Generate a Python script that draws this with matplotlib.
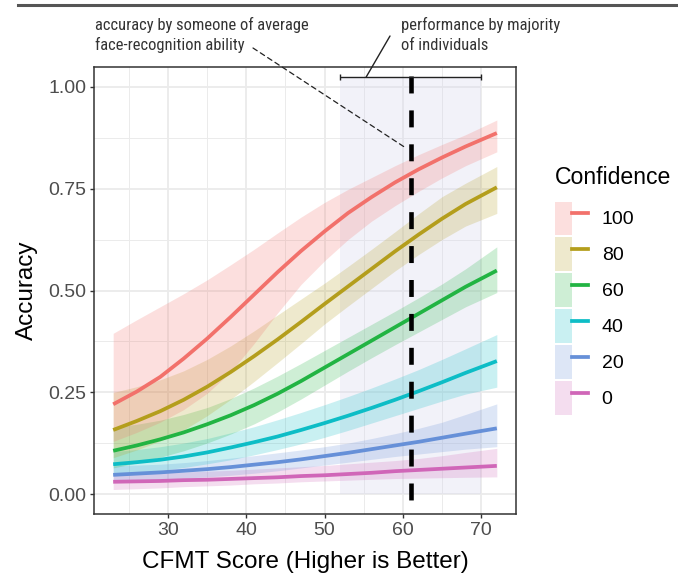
import matplotlib
matplotlib.use("Agg")
import matplotlib.pyplot as plt
from matplotlib.lines import Line2D
from matplotlib.patches import Patch
from matplotlib.legend_handler import HandlerTuple

plt.rcParams['font.family'] = ['Liberation Sans', 'DejaVu Sans']

# data
score = [23, 26, 29, 32, 35, 38, 41, 44, 47, 50, 53, 56, 59, 62, 65, 68, 72]

acc_100 = [0.221, 0.252, 0.288, 0.333, 0.382, 0.435, 0.490, 0.545, 0.597, 0.645, 0.690, 0.729, 0.765, 0.797, 0.826, 0.853, 0.886]
lo_100 = [0.130, 0.152, 0.177, 0.208, 0.248, 0.300, 0.370, 0.445, 0.515, 0.573, 0.625, 0.670, 0.708, 0.743, 0.776, 0.806, 0.840]
hi_100 = [0.395, 0.428, 0.460, 0.492, 0.526, 0.563, 0.601, 0.641, 0.680, 0.716, 0.748, 0.777, 0.806, 0.833, 0.858, 0.882, 0.918]

acc_80 = [0.158, 0.180, 0.204, 0.232, 0.264, 0.300, 0.339, 0.380, 0.423, 0.467, 0.510, 0.553, 0.596, 0.637, 0.676, 0.712, 0.753]
lo_80 = [0.090, 0.109, 0.131, 0.158, 0.193, 0.233, 0.277, 0.323, 0.370, 0.418, 0.462, 0.505, 0.548, 0.588, 0.625, 0.658, 0.689]
hi_80 = [0.250, 0.264, 0.281, 0.303, 0.331, 0.364, 0.401, 0.440, 0.479, 0.518, 0.559, 0.601, 0.644, 0.688, 0.730, 0.763, 0.804]

acc_60 = [0.107, 0.120, 0.135, 0.152, 0.172, 0.194, 0.219, 0.247, 0.278, 0.311, 0.344, 0.377, 0.410, 0.443, 0.476, 0.509, 0.549]
lo_60 = [0.065, 0.077, 0.091, 0.107, 0.126, 0.148, 0.173, 0.202, 0.234, 0.268, 0.302, 0.335, 0.367, 0.398, 0.429, 0.460, 0.495]
hi_60 = [0.165, 0.172, 0.182, 0.196, 0.213, 0.235, 0.261, 0.290, 0.321, 0.353, 0.385, 0.417, 0.449, 0.482, 0.516, 0.553, 0.607]

acc_40 = [0.074, 0.079, 0.085, 0.093, 0.103, 0.115, 0.128, 0.142, 0.158, 0.175, 0.193, 0.212, 0.232, 0.253, 0.275, 0.298, 0.327]
lo_40 = [0.048, 0.053, 0.059, 0.066, 0.075, 0.085, 0.097, 0.110, 0.124, 0.140, 0.157, 0.175, 0.193, 0.211, 0.229, 0.246, 0.263]
hi_40 = [0.105, 0.110, 0.117, 0.126, 0.137, 0.151, 0.166, 0.183, 0.201, 0.220, 0.240, 0.261, 0.283, 0.306, 0.331, 0.357, 0.392]

acc_20 = [0.048, 0.051, 0.054, 0.058, 0.062, 0.067, 0.073, 0.079, 0.086, 0.094, 0.102, 0.111, 0.120, 0.129, 0.139, 0.149, 0.162]
lo_20 = [0.030, 0.033, 0.036, 0.040, 0.043, 0.047, 0.052, 0.058, 0.065, 0.072, 0.079, 0.086, 0.093, 0.099, 0.105, 0.111, 0.117]
hi_20 = [0.070, 0.072, 0.074, 0.078, 0.083, 0.089, 0.095, 0.102, 0.109, 0.117, 0.126, 0.137, 0.149, 0.162, 0.177, 0.196, 0.222]

acc_0 = [0.031, 0.032, 0.033, 0.035, 0.036, 0.038, 0.040, 0.042, 0.045, 0.047, 0.050, 0.053, 0.057, 0.060, 0.063, 0.066, 0.070]
lo_0 = [0.012, 0.014, 0.016, 0.019, 0.021, 0.023, 0.026, 0.028, 0.031, 0.033, 0.035, 0.037, 0.039, 0.040, 0.041, 0.042, 0.043]
hi_0 = [0.052, 0.053, 0.054, 0.055, 0.057, 0.059, 0.062, 0.065, 0.068, 0.071, 0.075, 0.079, 0.083, 0.088, 0.095, 0.103, 0.113]

confidence = ['100', '80', '60', '40', '20', '0']
colors = ['#F2716B', '#B49E1C', '#22B443', '#0DBDC6', '#6690D8', '#D066B8']
lines = [acc_100, acc_80, acc_60, acc_40, acc_20, acc_0]
lows = [lo_100, lo_80, lo_60, lo_40, lo_20, lo_0]
highs = [hi_100, hi_80, hi_60, hi_40, hi_20, hi_0]

avg_score = 61
majority_range = (52, 70)
bar_y = 1.023

fig = plt.figure(figsize=(6.78, 5.74), dpi=100)
ax = fig.add_axes([94/678, 1 - 514/574, 422/678, 447/574])

ax.set_xlim(20.55, 74.45)
ax.set_ylim(-0.048, 1.048)
ax.set_xticks([30, 40, 50, 60, 70])
ax.set_xticks([25, 35, 45, 55, 65], minor=True)
ax.set_yticks([0, 0.25, 0.5, 0.75, 1.0])
ax.set_yticks([0.125, 0.375, 0.625, 0.875], minor=True)
ax.set_yticklabels(['0.00', '0.25', '0.50', '0.75', '1.00'])
ax.grid(which='major', color='#EBEBEB', lw=1.3, zorder=0)
ax.grid(which='minor', color='#EBEBEB', lw=0.7, zorder=0)
ax.set_axisbelow(True)
ax.tick_params(which='major', length=3.2, width=1, color='#333333',
               labelsize=14, labelcolor='#4D4D4D', pad=2.5)
ax.tick_params(which='minor', length=0)
for s in ax.spines.values():
    s.set_color('#333333')
    s.set_linewidth(1.1)

# band of most individuals
ax.axvspan(majority_range[0], majority_range[1], ymin=0.048/1.096, ymax=(bar_y + 0.048)/1.096,
           color='#D8D8EE', alpha=0.32, lw=0, zorder=1)

for lo, hi, c in zip(lows[::-1], highs[::-1], colors[::-1]):
    ax.fill_between(score, lo, hi, color=c, alpha=0.22, lw=0, zorder=2)
for y, c in zip(lines[::-1], colors[::-1]):
    ax.plot(score, y, color=c, lw=2.7, zorder=3, solid_capstyle='butt', solid_joinstyle='round')

ax.plot([avg_score, avg_score], [bar_y + 0.003, -0.048], color='black', lw=3.3,
        dashes=(3.7, 3.7), zorder=4, clip_on=False)
ax.errorbar(avg_score, bar_y, xerr=[[avg_score - majority_range[0]], [majority_range[1] - avg_score]],
            fmt='none', ecolor='#222222', elinewidth=1.0, capsize=2.2, capthick=1.0, zorder=4)

ax.set_xlabel('CFMT Score (Higher is Better)', fontsize=17.5, labelpad=9)
ax.set_ylabel('Accuracy', fontsize=17.5, labelpad=7)

# annotations, in a narrow face scaled to the reference width
note_font = ['Roboto Condensed', 'Open Sans Condensed', 'DejaVu Sans Condensed',
             'Liberation Sans Narrow', 'Roboto']
t1 = fig.text(95/678, 1 - 35/574, 'accuracy by someone of average\nface-recognition ability',
              fontsize=12.5, family=note_font, color='#333333', va='center', ha='left',
              linespacing=1.3)
t2 = fig.text(401/678, 1 - 35/574, 'performance by majority\nof individuals',
              fontsize=12.5, family=note_font, color='#333333', va='center', ha='left',
              linespacing=1.3)
fig.canvas.draw()
k = 214 / t1.get_window_extent().width
t1.set_fontsize(12.5 * k)
t2.set_fontsize(12.5 * k)
t1.set_linespacing(1.3 / k ** 0.5)
t2.set_linespacing(1.3 / k ** 0.5)

ax.annotate('', xy=(60.5, 0.848), xycoords='data', xytext=(253/678, 1 - 48/574),
            textcoords='figure fraction',
            arrowprops=dict(arrowstyle='-', color='#222222', lw=0.9, linestyle=(0, (4, 3)),
                            shrinkA=0, shrinkB=0))
ax.annotate('', xy=(55.3, bar_y), xycoords='data', xytext=(390/678, 1 - 36/574),
            textcoords='figure fraction',
            arrowprops=dict(arrowstyle='-', color='#222222', lw=1.0, shrinkA=0, shrinkB=0))

# rule at the top
fig.add_artist(Line2D([18/678, 1], [1 - 5/574, 1 - 5/574], color='#555555', lw=2.2))

# legend
fig.text(555/678, 1 - 178/574, 'Confidence', fontsize=16.6, va='center', ha='left')
handles = [(Patch(facecolor=c, alpha=0.22, lw=0), Line2D([], [], color=c, lw=2.7))
           for c in colors]
leg = fig.legend(handles, confidence, loc='upper left',
                 bbox_to_anchor=(555/678, 1 - 201.5/574), frameon=False, fontsize=14,
                 handlelength=1.7, handleheight=2.24, labelspacing=0.15,
                 handletextpad=0.7, borderpad=0, borderaxespad=0,
                 handler_map={tuple: HandlerTuple(ndivide=None, pad=0)})

fig.savefig('out.png', dpi=100)
